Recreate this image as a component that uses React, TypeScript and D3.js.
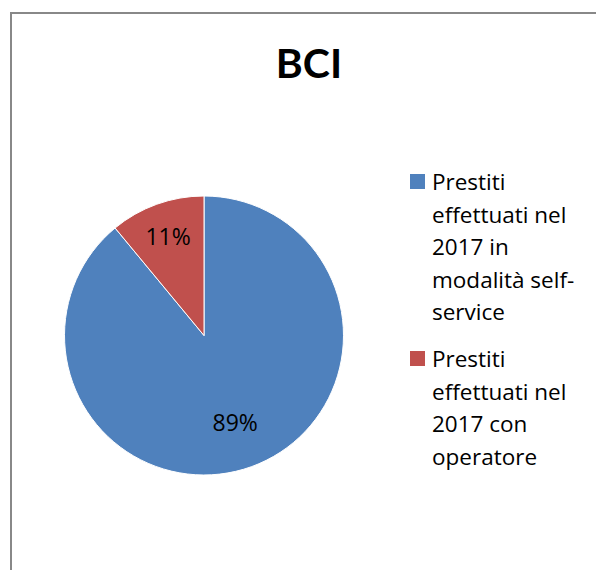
import React from "react";
import * as d3 from "d3";

const title = "BCI";
const categories = [
  "Prestiti effettuati nel 2017 in modalità self-service",
  "Prestiti effettuati nel 2017 con operatore",
];
const values = [89, 11];
const legendLines = [
  ["Prestiti", "effettuati nel", "2017 in", "modalità self-", "service"],
  ["Prestiti", "effettuati nel", "2017 con", "operatore"],
];
const colors = ["#4F81BD", "#C0504D"];

const W = 596;
const H = 570;
const TITLE_FONT = "Lato, 'Open Sans', sans-serif";
const FONT = "'Open Sans', Lato, sans-serif";

export default function App() {
  const cx = 204;
  const cy = 335.5;
  const r = 139.5;
  const pie = d3.pie<number>().sort(null).value((d) => d)(values);
  const arc = d3.arc<d3.PieArcDatum<number>>().innerRadius(0).outerRadius(r);
  const labelFactor = [0.66, 0.76];
  const total = d3.sum(values);
  const fmt = d3.format(".0%");

  const lineH = 32.5;
  const legendX = 410;
  const legendTop = 190;
  const blockGap = 14.5;
  let y = legendTop;
  const blocks = legendLines.map((lines, i) => {
    const start = y;
    y += lines.length * lineH + blockGap;
    return { lines, start, i };
  });

  return (
    <svg
      width={W}
      height={H}
      style={{ position: "absolute", left: 0, top: 0, background: "#fff" }}
    >
      <rect x={0} y={0} width={W} height={H} fill="#fff" />
      <rect
        x={11}
        y={13}
        width={W + 20}
        height={H + 20}
        fill="#fff"
        stroke="#888"
        strokeWidth={2}
      />
      <text
        x={309}
        y={78}
        textAnchor="middle"
        fontFamily={TITLE_FONT}
        fontWeight="bold"
        fontSize={41}
        fill="#000"
      >
        {title}
      </text>
      <g transform={`translate(${cx},${cy})`}>
        {pie.map((p, i) => (
          <path
            key={i}
            d={arc(p) || ""}
            fill={colors[i]}
            stroke="#fff"
            strokeWidth={1}
          />
        ))}
        {pie.map((p, i) => {
          const lr = r * labelFactor[i];
          const [lx, ly] = d3
            .arc<d3.PieArcDatum<number>>()
            .innerRadius(lr)
            .outerRadius(lr)
            .centroid(p);
          return (
            <text
              key={i}
              x={lx}
              y={ly}
              textAnchor="middle"
              dominantBaseline="central"
              fontFamily={FONT}
              fontSize={23}
              fill="#000"
            >
              {fmt(values[i] / total)}
            </text>
          );
        })}
      </g>
      {blocks.map((b) => (
        <g key={b.i}>
          <title>{categories[b.i]}</title>
          <rect
            x={legendX}
            y={b.start - 16}
            width={15}
            height={15}
            fill={colors[b.i]}
          />
          {b.lines.map((ln, j) => (
            <text
              key={j}
              x={432}
              y={b.start + j * lineH}
              fontFamily={FONT}
              fontSize={22.5}
              fill="#000"
            >
              {ln}
            </text>
          ))}
        </g>
      ))}
    </svg>
  );
}
